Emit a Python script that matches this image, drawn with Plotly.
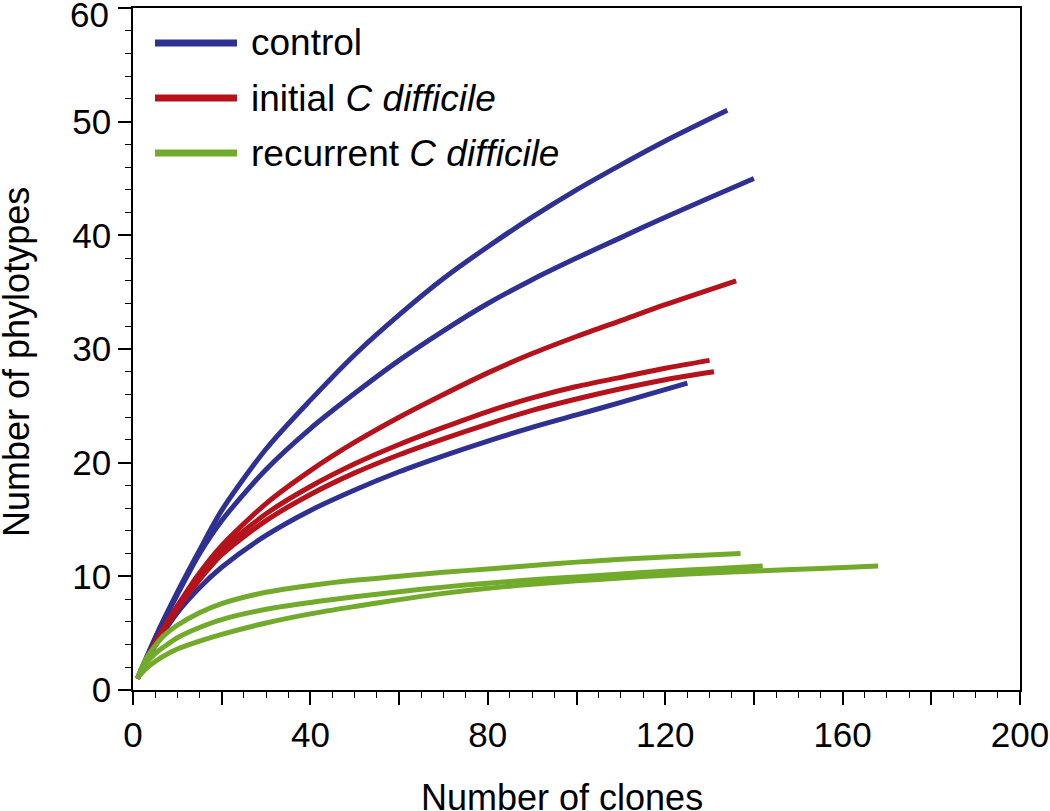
import plotly.graph_objects as go

# ---- data (x = number of clones, y = number of phylotypes)
control_a_x = [1, 5, 10, 15, 20, 30, 40, 50, 60, 70, 80, 90, 100, 110, 120, 134]
control_a_y = [1, 4.6, 8.6, 12.3, 15.8, 21.2, 25.5, 29.5, 33.0, 36.2, 39.0, 41.6, 44.0, 46.2, 48.3, 51]

control_b_x = [1, 5, 10, 15, 20, 30, 40, 50, 60, 70, 80, 90, 100, 110, 120, 130, 140]
control_b_y = [1, 4.5, 8.4, 12.0, 14.9, 19.4, 23.0, 26.1, 29.0, 31.6, 34.0, 36.1, 38.0, 39.8, 41.6, 43.3, 45]

control_c_x = [1, 5, 10, 15, 20, 30, 40, 50, 60, 70, 80, 90, 100, 110, 125]
control_c_y = [1, 3.9, 6.8, 9.0, 10.8, 13.6, 15.8, 17.6, 19.2, 20.6, 21.9, 23.1, 24.2, 25.3, 27]

initial_a_x = [1, 5, 10, 15, 20, 30, 40, 50, 60, 70, 80, 90, 100, 110, 120, 136]
initial_a_y = [1, 4.2, 7.4, 10.3, 12.7, 16.4, 19.3, 21.8, 24.0, 26.0, 27.9, 29.6, 31.1, 32.5, 33.9, 36]

initial_b_x = [1, 5, 10, 15, 20, 30, 40, 50, 60, 70, 80, 90, 100, 110, 120, 130]
initial_b_y = [1, 4.1, 7.3, 10.0, 12.3, 15.5, 17.9, 19.9, 21.6, 23.1, 24.5, 25.7, 26.7, 27.5, 28.3, 29]

initial_c_x = [1, 5, 10, 15, 20, 30, 40, 50, 60, 70, 80, 90, 100, 110, 120, 131]
initial_c_y = [1, 4.0, 7.1, 9.7, 11.9, 14.9, 17.2, 19.1, 20.7, 22.1, 23.4, 24.6, 25.6, 26.5, 27.3, 28]

recurrent_a_x = [1, 2, 3, 5, 7, 10, 15, 20, 30, 40, 50, 60, 70, 80, 90, 100, 110, 120, 137]
recurrent_a_y = [1, 2.0, 2.8, 3.9, 4.8, 5.7, 6.8, 7.6, 8.6, 9.2, 9.65, 10.0, 10.35, 10.65, 10.95, 11.25, 11.5, 11.7, 12]

recurrent_b_x = [1, 2, 3, 5, 7, 10, 15, 20, 30, 40, 50, 60, 70, 80, 90, 100, 110, 120, 130, 142]
recurrent_b_y = [1, 1.8, 2.4, 3.2, 3.8, 4.6, 5.5, 6.2, 7.1, 7.7, 8.2, 8.65, 9.05, 9.4, 9.7, 9.95, 10.2, 10.45, 10.65, 10.9]

recurrent_c_x = [1, 2, 3, 5, 7, 10, 15, 20, 30, 40, 50, 60, 70, 80, 90, 100, 110, 120, 130, 142, 155, 168]
recurrent_c_y = [1, 1.5, 1.9, 2.5, 3.0, 3.6, 4.3, 4.9, 5.9, 6.7, 7.35, 7.95, 8.5, 8.95, 9.3, 9.6, 9.85, 10.1, 10.3, 10.5, 10.7, 10.9]

group_names = ["control", "initial <i>C difficile</i>", "recurrent <i>C difficile</i>"]
group_colors = ["#2e3192", "#b5121b", "#72ab2b"]

x_tick_vals = [0, 20, 40, 60, 80, 100, 120, 140, 160, 180, 200]
x_tick_text = ["0", "", "40", "", "80", "", "120", "", "160", "", "200"]
y_tick_vals = [0, 10, 20, 30, 40, 50, 60]
y_tick_text = ["0", "10", "20", "30", "40", "50", ""]   # top label "60" placed below
y_top_label = "60"

groups = [
    [(control_a_x, control_a_y), (control_b_x, control_b_y), (control_c_x, control_c_y)],
    [(initial_a_x, initial_a_y), (initial_b_x, initial_b_y), (initial_c_x, initial_c_y)],
    [(recurrent_a_x, recurrent_a_y), (recurrent_b_x, recurrent_b_y), (recurrent_c_x, recurrent_c_y)],
]

FONT = "Liberation Sans, Arial, Helvetica, sans-serif"

fig = go.Figure()
for gi, curves in enumerate(groups):
    for xs, ys in curves:
        fig.add_trace(go.Scatter(
            x=xs, y=ys, mode="lines",
            line=dict(color=group_colors[gi], width=5, shape="spline", smoothing=0.8),
            showlegend=False, hoverinfo="skip",
        ))

# ---- legend drawn as shapes + text (long line samples as in the reference)
plot_l, plot_r, plot_t, plot_b = 133, 1020, 8, 690
W, H = plot_r - plot_l, plot_b - plot_t
legend_y_px = [43, 98, 153]
for name, color, ypx in zip(group_names, group_colors, legend_y_px):
    yp = (plot_b - ypx) / H
    fig.add_shape(type="line", xref="paper", yref="paper",
                  x0=(155 - plot_l) / W, x1=(237 - plot_l) / W, y0=yp, y1=yp,
                  line=dict(color=color, width=7))
    fig.add_annotation(xref="paper", yref="paper", x=(249 - plot_l) / W, y=yp,
                       text=name, showarrow=False, xanchor="left", yanchor="middle",
                       font=dict(family=FONT, size=37, color="black"))

# top y tick label (sits slightly below its tick, as in the reference)
fig.add_annotation(xref="paper", yref="paper", x=-(plot_l - 111) / W, y=(plot_b - 15) / H,
                   text=y_top_label, showarrow=False, xanchor="right", yanchor="middle",
                   font=dict(family=FONT, size=35, color="black"))

# axis titles
fig.add_annotation(xref="paper", yref="paper", x=(562 - plot_l) / W, y=-(797 - plot_b) / H,
                   text="Number of clones", showarrow=False, xanchor="center", yanchor="middle",
                   font=dict(family=FONT, size=36, color="black"))
fig.add_annotation(xref="paper", yref="paper", x=-(plot_l - 16) / W, y=(plot_b - 362) / H,
                   text="Number of phylotypes", showarrow=False, textangle=-90,
                   xanchor="center", yanchor="middle",
                   font=dict(family=FONT, size=36, color="black"))

fig.update_xaxes(
    range=[0, 200], tickmode="array", tickvals=x_tick_vals, ticktext=x_tick_text,
    ticks="outside", ticklen=13, tickwidth=1.5, tickcolor="black",
    showline=True, linecolor="black", linewidth=1.5, mirror=True,
    showgrid=False, zeroline=False, ticklabeloverflow="allow",
    tickfont=dict(family=FONT, size=35, color="black"),
    minor=dict(tickmode="linear", tick0=0, dtick=5, ticks="outside", ticklen=6,
               tickwidth=1.2, tickcolor="black", showgrid=False),
)
fig.update_yaxes(
    range=[0, 60], tickmode="array", tickvals=y_tick_vals, ticktext=y_tick_text,
    ticks="outside", ticklen=13, tickwidth=1.5, tickcolor="black",
    showline=True, linecolor="black", linewidth=1.5, mirror=True,
    showgrid=False, zeroline=False, ticklabeloverflow="allow",
    tickfont=dict(family=FONT, size=35, color="black"),
    minor=dict(tickmode="linear", tick0=0, dtick=2, ticks="outside", ticklen=6,
               tickwidth=1.2, tickcolor="black", showgrid=False),
)

fig.update_layout(
    width=1050, height=811,
    margin=dict(l=plot_l, r=1050 - plot_r, t=plot_t, b=811 - plot_b, autoexpand=False),
    paper_bgcolor="white", plot_bgcolor="white",
    showlegend=False,
)

fig.write_html("out.html", config={"displayModeBar": False},
               post_script="document.body.style.margin='0';document.body.style.overflow='hidden';")
